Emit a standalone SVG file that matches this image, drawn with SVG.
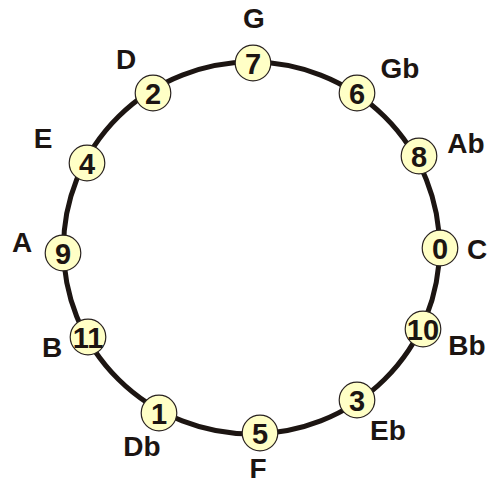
<svg xmlns="http://www.w3.org/2000/svg" width="491" height="482" viewBox="0 0 491 482">
<style>
.ring{fill:none;stroke:#1c1512;stroke-width:5}
.node circle{fill:#ffffc6;stroke:#2a2320;stroke-width:1.2}
.num{font-family:"Liberation Sans",Arial,sans-serif;font-weight:bold;font-size:29px;fill:#1c1512;text-anchor:middle}
.lab{font-family:"Liberation Sans",Arial,sans-serif;font-weight:bold;font-size:28px;fill:#1c1512;text-anchor:middle}
</style>
<rect width="491" height="482" fill="#ffffff"/>
<g id="connectors">
<ellipse class="ring" cx="251.5" cy="248" rx="188" ry="186"/>
</g>
<g id="n7" class="node"><circle cx="253" cy="63" r="17.8"/><text class="num" x="253" y="73.5">7</text><text class="lab" x="254" y="28">G</text></g>
<g id="n6" class="node"><circle cx="357" cy="93" r="17.8"/><text class="num" x="357" y="103.5">6</text><text class="lab" x="400" y="78">Gb</text></g>
<g id="n8" class="node"><circle cx="419" cy="156" r="17.8"/><text class="num" x="419" y="166.5">8</text><text class="lab" x="466" y="153">Ab</text></g>
<g id="n0" class="node"><circle cx="440" cy="248" r="17.8"/><text class="num" x="440" y="258.5">0</text><text class="lab" x="477" y="259">C</text></g>
<g id="n10" class="node"><circle cx="423" cy="329" r="17.8"/><text class="num" x="423" y="339.5">10</text><text class="lab" x="467" y="355">Bb</text></g>
<g id="n3" class="node"><circle cx="357" cy="400" r="17.8"/><text class="num" x="357" y="410.5">3</text><text class="lab" x="388" y="440">Eb</text></g>
<g id="n5" class="node"><circle cx="260" cy="433" r="17.8"/><text class="num" x="260" y="443.5">5</text><text class="lab" x="258" y="478">F</text></g>
<g id="n1" class="node"><circle cx="159" cy="413" r="17.8"/><text class="num" x="159" y="423.5">1</text><text class="lab" x="142" y="456">Db</text></g>
<g id="n11" class="node"><circle cx="88" cy="337" r="17.8"/><text class="num" x="88" y="347.5">11</text><text class="lab" x="52" y="357">B</text></g>
<g id="n9" class="node"><circle cx="63" cy="253" r="17.8"/><text class="num" x="63" y="263.5">9</text><text class="lab" x="22" y="252">A</text></g>
<g id="n4" class="node"><circle cx="87" cy="163" r="17.8"/><text class="num" x="87" y="173.5">4</text><text class="lab" x="43" y="148">E</text></g>
<g id="n2" class="node"><circle cx="153" cy="93" r="17.8"/><text class="num" x="153" y="103.5">2</text><text class="lab" x="126" y="69">D</text></g>
</svg>
